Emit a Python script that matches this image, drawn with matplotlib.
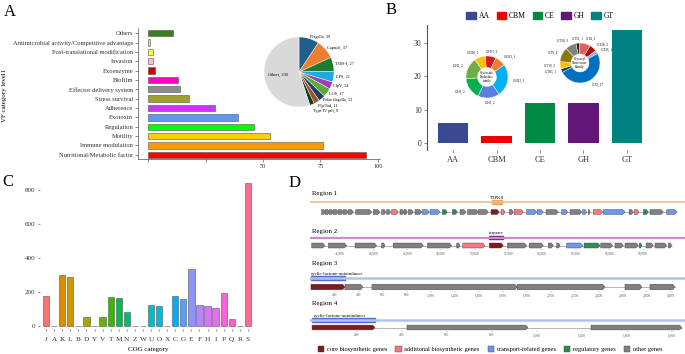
import numpy as np
import matplotlib
matplotlib.use("Agg")
from matplotlib import pyplot as plt
from matplotlib.patches import Polygon, Patch, Rectangle

plt.rcParams['font.family'] = ['Liberation Serif', 'DejaVu Serif']

W, H = 685, 354


def box(x0, y0, x1, y1):
    # pixel box (top-left origin) -> figure fraction rect
    return [x0 / W, 1 - y1 / H, (x1 - x0) / W, (y1 - y0) / H]


# ---------------- data: panel A
vf_cats = ["Nutritional/Metabolic factor", "Immune modulation", "Motility", "Regulation", "Exotoxin",
           "Adherence", "Stress survival", "Effector delivery system", "Biofilm", "Exoenzyme", "Invasion",
           "Post-translational modification", "Antimicrobial activity/Competitive advantage", "Others"]
vf_counts = [95, 76, 53, 46, 39, 29, 18, 14, 13, 3, 2, 2, 1, 11]
vf_colors = ["#ff0000", "#ff9900", "#ffcc00", "#00ff00", "#6495ed", "#cc33ff", "#a0a030", "#8c8c8c",
             "#ff00cc", "#cc0000", "#ffc0cb", "#ffff33", "#d9e66b", "#3a7d1e"]

vf_pie_names = ["Flagella", "Capsule", "T6SS-I", "LPS", "ClpV", "LOS", "Polar flagella", "Flp/Tad",
                "Type IV pili", "Others"]
vf_pie_values = [39, 37, 27, 21, 14, 17, 13, 11, 9, 230]
vf_pie_colors = ["#1f5f8b", "#ed7d31", "#1e7b34", "#1fa9e1", "#a040b0", "#5aab3c", "#1f3f5f", "#a0522d",
                 "#0f3f1f", "#d9d9d9"]

# ---------------- data: panel B
cazy_classes = ["AA", "CBM", "CE", "GH", "GT"]
cazy_counts = [6, 2, 12, 12, 34]
cazy_colors = ["#3b4992", "#ee0000", "#008b45", "#631879", "#008280"]

gh_names = ["GH73", "GH13", "GH23", "GH3", "GH1", "GH5", "GH18"]
gh_values = [1, 1, 3, 2, 2, 2, 1]
gh_colors = ["#d7191c", "#ed7d31", "#00b0f0", "#5b7fde", "#00b050", "#70ad47", "#ffc000"]

gt_names = ["GT51", "GT4", "GT28", "GT26", "GT2", "GT83", "GT19", "GT9", "GT30"]
gt_values = [1, 3, 2, 1, 17, 1, 2, 4, 3]
gt_colors = ["#222222", "#e06060", "#c00000", "#8db4e2", "#0070c0", "#1f3864", "#ffc000", "#8c7a00",
             "#808080"]

# ---------------- data: panel C
cog_letters = list("JAKLBDYVTMNZWUOXCGEFHIPQRS")
cog_counts = [174, 2, 298, 290, 1, 55, 1, 51, 171, 163, 80, 1, 1, 125, 116, 1, 178, 157, 333, 124, 120,
              108, 192, 41, 1, 843]
cog_colors = ["#F8766D", "#EC8239", "#E08A00", "#CF9400", "#BE9C00", "#A8A300", "#8AAB00", "#66B200",
              "#39B600", "#00BB4E", "#00BE6C", "#00C08D", "#00C0A8", "#00BFC4", "#00BADA", "#00B5EE",
              "#00ACFC", "#55A0FF", "#8D92FF", "#B983FF", "#D575FE", "#E86BF1", "#F763DB", "#FF61C9",
              "#FF64B0", "#FB6C8D"]

# ---------------- data: panel D (bp)
r1_start = [1400, 1840, 2320, 2800, 3400, 4000, 4600, 5480, 7600, 8600, 9200, 9800, 10800, 11280, 11800,
            12600, 13480, 14400, 15880, 17080, 18000, 18920, 20200, 21720, 22920, 23920, 24520, 26000,
            27280, 28320, 30200, 31200, 32720, 33400, 34000, 35200, 38280, 38920, 40000, 40800, 42800]
r1_end = [1840, 2320, 2800, 3400, 4000, 4600, 5200, 7400, 8400, 9120, 9680, 10600, 11280, 11680, 12400,
          13400, 14320, 15600, 16480, 17680, 18720, 20200, 21400, 22720, 23400, 24400, 25600, 27200,
          28000, 29800, 30920, 32600, 33200, 33600, 35120, 37800, 38800, 39480, 40600, 42400, 44000]
r1_kind = list("oooooooooooaoooottrroooc" "aoattototoatoarot")
r1_core = (21800, 23000)

r2_start = [40317, 41307, 42891, 44475, 45168, 47188, 48930, 49287, 50870, 51940, 53246, 54375, 54870,
            55464, 56494, 57484, 58335, 58929, 59780, 60176, 60711, 61503]
r2_end = [41109, 42396, 44178, 44673, 46950, 48633, 49128, 50613, 51702, 53088, 54078, 54672, 55068,
          56414, 57444, 58196, 58830, 59721, 59919, 60612, 61404, 61701]
r2_kind = list("oooooooacooootrooorooo")
r2_core = (50851, 51702)

r3_start = [0, 283, 508, 1717, 2617, 2825]
r3_end = [283, 433, 1717, 2450, 2758, 3033]
r3_kind = list("cooooo")
r3_core = (0, 283)

r4_start = [0, 422, 1240]
r4_end = [280, 960, 1644]
r4_kind = list("coo")
r4_core = (0, 280)

kind_colors = {"c": "#7f1a1f", "a": "#f07a80", "t": "#6d97e8", "r": "#2e8b57", "o": "#808080"}
kind_labels = {"c": "core biosynthetic genes", "a": "additional biosynthetic genes",
               "t": "transport-related genes", "r": "regulatory genes", "o": "other genes"}

fig = plt.figure(figsize=(6.85, 3.54), dpi=100)

for letter, (px, py) in {"A": (10, 12), "B": (391, 10), "C": (8, 182), "D": (295, 183)}.items():
    fig.text(px / W, 1 - py / H, letter, fontsize=12, ha="center", va="center")

# ---------------- A: VF bars
axA = fig.add_axes(box(138, 28, 380, 159))
ypos = np.arange(len(vf_cats))
axA.barh(ypos, vf_counts, height=0.68, color=vf_colors, edgecolor="#555555", linewidth=0.4)
axA.set_yticks(ypos, vf_cats, fontsize=4.7)
axA.set_ylim(-0.45, 13.55)
axA.set_xlim(-4.4, 101)
axA.set_xticks([0, 25, 50, 75, 100], ["", "", "50", "75", "100"], fontsize=4.5)
axA.tick_params(length=2, width=0.4, pad=1.5, colors="#333333")
for s in ["top", "right"]:
    axA.spines[s].set_visible(False)
for s in ["left", "bottom"]:
    axA.spines[s].set_linewidth(0.5)
    axA.spines[s].set_color("#555555")
fig.text(5 / W, 1 - 95 / H, "VF category level1", rotation=90, fontsize=5, ha="center", va="center")

# pie inset
axP = fig.add_axes(box(264, 37, 334, 107))
wedges, _ = axP.pie(vf_pie_values, colors=vf_pie_colors, startangle=90, counterclock=False,
                    wedgeprops=dict(edgecolor="white", linewidth=0.3))
axP.set_xlim(-1, 1)
axP.set_ylim(-1, 1)
axP.set_aspect("equal")
lab_pos = []
for w in wedges[:-1]:
    ang = np.deg2rad((w.theta1 + w.theta2) / 2)
    lab_pos.append([1.06 * np.cos(ang), 1.06 * np.sin(ang)])
for i in range(1, len(lab_pos)):
    if lab_pos[i][1] > lab_pos[i - 1][1] - 0.16:
        lab_pos[i][1] = lab_pos[i - 1][1] - 0.16
for (lx, ly), name, val in zip(lab_pos, vf_pie_names[:-1], vf_pie_values[:-1]):
    axP.text(lx, ly, f"{name}, {val}", fontsize=3.1, ha="left", va="center")
w = wedges[-1]
ang = np.deg2rad((w.theta1 + w.theta2) / 2)
axP.text(0.6 * np.cos(ang), 0.6 * np.sin(ang), f"{vf_pie_names[-1]}, {vf_pie_values[-1]}",
         fontsize=3.1, ha="center", va="center")

# ---------------- B: CAZy bars
axB = fig.add_axes(box(427, 25, 650, 150))
axB.bar(range(len(cazy_classes)), cazy_counts, width=0.7, color=cazy_colors)
axB.set_xticks(range(len(cazy_classes)), cazy_classes, fontsize=6)
axB.set_yticks([0, 10, 20, 30])
axB.tick_params(axis="y", labelsize=5.5)
axB.tick_params(length=2, width=0.4, pad=2, colors="#333333")
axB.set_xlim(-0.6, 4.53)
axB.set_ylim(-2.1, 35.4)
for s in ["top", "right", "bottom"]:
    axB.spines[s].set_visible(False)
axB.spines["left"].set_linewidth(0.8)
axB.spines["left"].set_color("#555555")
fig.legend([Patch(color=c) for c in cazy_colors], cazy_classes, loc="center",
           bbox_to_anchor=(540 / W, 1 - 16 / H), ncol=5, frameon=False, fontsize=5.5,
           handlelength=1.2, handleheight=1.1, columnspacing=0.9, handletextpad=0.4)


def donut(rect, values, names, colors, start, centre_text):
    ax = fig.add_axes(rect)
    ws, _ = ax.pie(values, colors=colors, startangle=start, counterclock=False,
                   wedgeprops=dict(width=0.55, edgecolor="white", linewidth=0.3))
    ax.set_xlim(-1, 1)
    ax.set_ylim(-1, 1)
    ax.set_aspect("equal")
    for wd, name, val in zip(ws, names, values):
        a = np.deg2rad((wd.theta1 + wd.theta2) / 2)
        ax.text(1.28 * np.cos(a), 1.22 * np.sin(a), f"{name}, {val}", fontsize=2.3,
                ha="left" if np.cos(a) > 0.2 else ("right" if np.cos(a) < -0.2 else "center"),
                va="center")
    ax.text(0, 0, centre_text, fontsize=2.4, ha="center", va="center", linespacing=0.9)


donut(box(466, 56, 508, 98), gh_values, gh_names, gh_colors, 95, "Glycoside\nHydrolase\nfamily")
donut(box(560, 43, 600, 83), gt_values, gt_names, gt_colors, 102, "Glycosyl\nTransferase\nFamily")

# ---------------- C: COG bars
axC = fig.add_axes(box(40, 178, 256, 329.4))
axC.bar(range(len(cog_letters)), cog_counts, width=0.78, color=cog_colors, edgecolor="#555555",
        linewidth=0.4)
axC.set_xticks(range(len(cog_letters)), cog_letters, fontsize=5.2)
axC.set_yticks([0, 200, 400, 600, 800])
axC.tick_params(axis="y", labelsize=5, pad=2)
axC.tick_params(axis="x", pad=4)
axC.tick_params(length=1.5, width=0.4, colors="#333333")
axC.set_xlim(-0.75, 26)
axC.set_ylim(-20, 870)
for s in axC.spines.values():
    s.set_visible(False)
axC.set_xlabel("COG category", fontsize=5, labelpad=3.5)

# ---------------- D: BGC regions


def draw_genes(ax, starts, ends, kinds, y, h, xmin, xmax):
    head = 0.006 * (xmax - xmin)
    ax.plot([starts[0], ends[-1]], [y, y], color="#999999", lw=0.5, zorder=1)
    for s, e, k in zip(starts, ends, kinds):
        hl = min(head, 0.4 * (e - s))
        pts = [(s, y - h), (e - hl, y - h), (e, y), (e - hl, y + h), (s, y + h)]
        ax.add_patch(Polygon(pts, closed=True, facecolor=kind_colors[k], edgecolor="#444444",
                             linewidth=0.3, zorder=2))


def region_axes(rect, xmin, xmax, y0, y1):
    ax = fig.add_axes(rect)
    ax.set_xlim(xmin, xmax)
    ax.set_ylim(y1, y0)
    for s in ax.spines.values():
        s.set_visible(False)
    ax.set_yticks([])
    return ax


# region 1
ax1 = region_axes(box(310, 190, 685, 216), 0, 45000, 190, 216)
ax1.set_xticks([])
ax1.plot([0, 45000], [202, 202], color="#e9bf96", lw=1.2)
ax1.add_patch(Rectangle((r1_core[0], 200.3), r1_core[1] - r1_core[0], 3.4, color="#f4a65a"))
ax1.text(sum(r1_core) / 2, 197.5, "T3PKS", fontsize=3.5, ha="center", va="center")
draw_genes(ax1, r1_start, r1_end, r1_kind, 212, 2.5, 0, 45000)

# region 2
ax2 = region_axes(box(310, 228, 685, 249), 40218, 62493, 228, 249)
ax2.plot([40218, 62493], [237.5, 237.5], color="#c88fc8", lw=1.6)
ax2.add_patch(Rectangle((r2_core[0], 235.8), r2_core[1] - r2_core[0], 3.4, color="#7b1e7b"))
ax2.text(sum(r2_core) / 2, 233, "terpene", fontsize=3.5, ha="center", va="center")
draw_genes(ax2, r2_start, r2_end, r2_kind, 245.5, 2.5, 40218, 62493)
r2_ticks = list(range(42000, 60001, 2000))
ax2.set_xticks(r2_ticks, [f"{t:,}" for t in r2_ticks], fontsize=2.5)
ax2.tick_params(length=1, width=0.3, pad=0.8, colors="#555555")

# region 3
ax3 = region_axes(box(310, 270, 685, 291), -8, 3117, 270, 291)
ax3.plot([-8, 3117], [278, 278], color="#aec2f2", lw=1.8)
ax3.add_patch(Rectangle((r3_core[0], 276.4), r3_core[1] - r3_core[0], 3.2, color="#4d6fd6"))
ax3.text(0, 274, "cyclic-lactone-autoinducer", fontsize=3.5, ha="left", va="center")
draw_genes(ax3, r3_start, r3_end, r3_kind, 287, 2.8, -8, 3117)
r3_ticks = list(range(200, 3001, 200))
ax3.set_xticks(r3_ticks, [f"{t:,}" for t in r3_ticks], fontsize=2.6)
ax3.tick_params(length=1, width=0.3, pad=0.8, colors="#555555")

# region 4
ax4 = region_axes(box(310, 312, 685, 331), -9, 1658, 312, 331)
ax4.plot([-9, 1658], [320, 320], color="#aec2f2", lw=1.8)
ax4.add_patch(Rectangle((r4_core[0], 318.4), r4_core[1] - r4_core[0], 3.2, color="#4d6fd6"))
ax4.text(10, 316, "cyclic-lactone-autoinducer", fontsize=3.5, ha="left", va="center")
draw_genes(ax4, r4_start, r4_end, r4_kind, 327.5, 2.4, -9, 1658)
r4_ticks = list(range(200, 1601, 200))
ax4.set_xticks(r4_ticks, [f"{t:,}" for t in r4_ticks], fontsize=2.6)
ax4.tick_params(length=1, width=0.3, pad=0.8, colors="#555555")

for name, py in [("Region 1", 194), ("Region 2", 231), ("Region 3", 264), ("Region 4", 304)]:
    fig.text(312 / W, 1 - py / H, name, fontsize=5, ha="left", va="center")

fig.legend([Patch(facecolor=kind_colors[k], edgecolor="#444444", linewidth=0.3) for k in "catro"],
           [kind_labels[k] for k in "catro"], loc="center", bbox_to_anchor=(490 / W, 1 - 349 / H),
           ncol=5, frameon=False, fontsize=4.6, handlelength=1.0, handleheight=1.0,
           columnspacing=1.3, handletextpad=0.4)

plt.savefig("out.png", dpi=100)
